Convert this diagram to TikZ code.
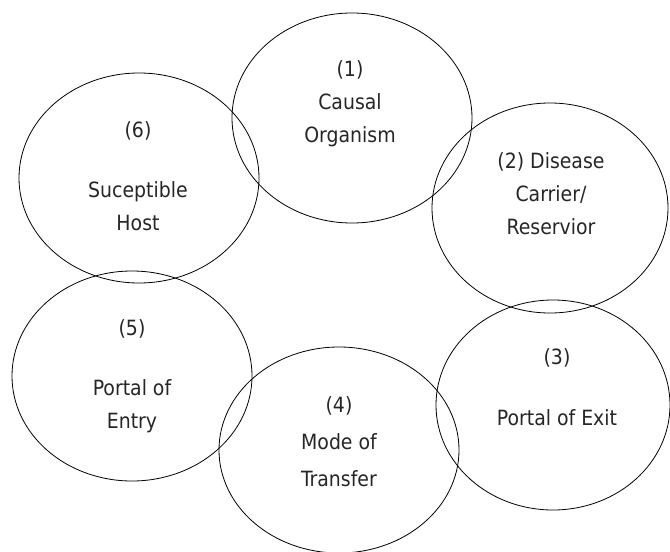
\documentclass[tikz,border=0pt]{standalone}
\usepackage{fontspec}
\setmainfont{DejaVu Sans Condensed}
\usepackage{tikz}
\usetikzlibrary{shapes.geometric}

\begin{document}
\begin{tikzpicture}[x=1pt,y=-1pt,
    ring/.style={draw, ellipse, line width=0.8pt, inner sep=0pt, minimum width=240pt, minimum height=210pt},
    lbl/.style={align=center, anchor=base, font=\fontsize{21}{33}\selectfont, text=black!85}]
  \useasboundingbox (0,0) rectangle (670,552);

  % the six links of the chain
  \node[ring] (organism) at (352,118) {};
  \node[ring, minimum width=236pt] (carrier) at (550,208) {};
  \node[ring, minimum width=234pt] (exit) at (553,405) {};
  \node[ring, minimum height=206pt] (transfer) at (339,450) {};
  \node[ring] (entry) at (132,376) {};
  \node[ring] (host) at (139,178) {};

  % labels, placed by the baseline of their last line
  \node[lbl] (organism-txt) at (350,142) {(1)\\Causal\\Organism};
  \node[lbl] (carrier-txt) at (551,234) {(2) Disease\\Carrier/\\Reservior};
  \node[lbl] (exit-txt) at (557,425) {(3)\\[28pt]Portal of Exit};
  \node[lbl] (transfer-txt) at (339,486) {(4)\\[4pt]Mode of\\[4pt]Transfer};
  \node[lbl] (entry-txt) at (132,428) {(5)\\[27pt]Portal of\\Entry};
  \node[lbl] (host-txt) at (138,230) {(6)\\[27pt]Suceptible\\Host};

\end{tikzpicture}
\end{document}
